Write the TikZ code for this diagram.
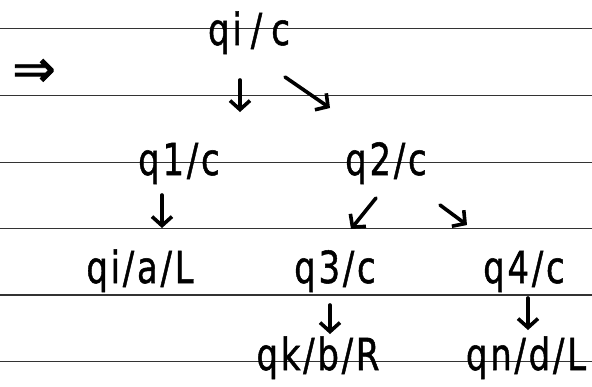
\documentclass[tikz,border=0pt]{standalone}
\usepackage{fontspec}
\usepackage{graphicx}
\newfontfamily\handfont{DejaVu Sans}[FakeBold=1.2,LetterSpace=8]
\newfontfamily\symfont{DejaVu Sans}[FakeBold=1.5]
\newcommand{\tall}[1]{\scalebox{1}[1.3]{#1}}
\usetikzlibrary{arrows.meta}
\tikzset{
  ruling/.style={draw=black!80, line width=1.3pt},
  label/.style={font=\handfont\fontsize{34}{36}\selectfont, anchor=base, inner sep=0pt, text=black},
  harrow/.style={draw=black, line width=3.6pt, line cap=round, line join=round,
                 -{Straight Barb[length=9pt,width=20pt,line width=3.6pt]}},
}
\begin{document}
\begin{tikzpicture}[x=1pt,y=-1pt]
\useasboundingbox (0,0) rectangle (592,386);
% ruled paper
\foreach \yy/\nm in {28.3/r1,95.7/r2,162.3/r3,228.7/r4,295/r5,361.7/r6}{
  \coordinate (\nm a) at (0,\yy);
  \coordinate (\nm b) at (592,\yy);
  \draw[ruling] (\nm a) -- (\nm b);
}
% implies sign
\node[font=\symfont\fontsize{52}{52}\selectfont, inner sep=0pt] (impl) at (34,73) {⇒};
% labels
\node[label] (root) at (249,45) {\tall{qi\kern9pt/\kern9pt c}};
\node[label] (q1) at (179,175) {\tall{q1/c}};
\node[label] (q2) at (386,175) {\tall{q2/c}};
\node[label] (qial) at (140,283) {\tall{qi/a/L}};
\node[label] (q3) at (335,283) {\tall{q3/c}};
\node[label] (q4) at (524,283) {\tall{q4/c}};
\node[label] (qk) at (318,370) {\tall{qk/b/R}};
\node[label] (qn) at (526,370) {\tall{qn/d/L}};
% connector end points
\coordinate (a1s) at (240,80);  \coordinate (a1e) at (240,112);
\coordinate (a2s) at (285,77);  \coordinate (a2e) at (330,108);
\coordinate (a3s) at (162,195); \coordinate (a3e) at (162,228);
\coordinate (a4s) at (376,198); \coordinate (a4e) at (351,229);
\coordinate (a5s) at (440,205); \coordinate (a5e) at (467,225);
\coordinate (a6s) at (330,305); \coordinate (a6e) at (330,334);
\coordinate (a7s) at (528,298); \coordinate (a7e) at (528,330);
\draw[harrow] (a1s) -- (a1e);
\draw[harrow] (a2s) -- (a2e);
\draw[harrow] (a3s) -- (a3e);
\draw[harrow] (a4s) -- (a4e);
\draw[harrow] (a5s) -- (a5e);
\draw[harrow] (a6s) -- (a6e);
\draw[harrow] (a7s) -- (a7e);
\end{tikzpicture}
\end{document}
